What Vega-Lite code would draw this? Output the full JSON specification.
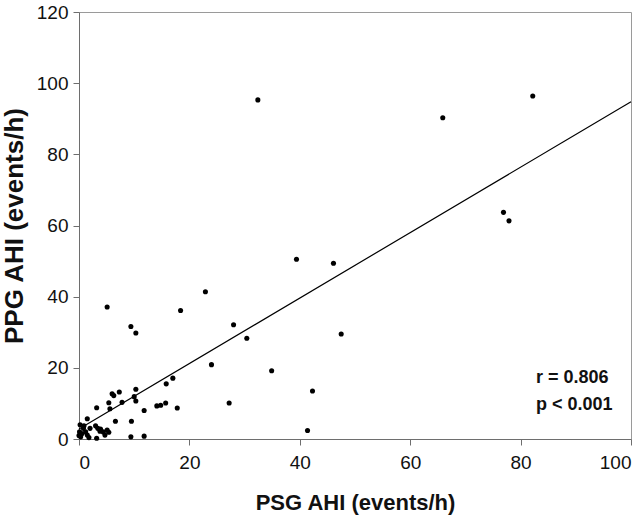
{
  "$schema": "https://vega.github.io/schema/vega-lite/v6.json",
  "width": 552,
  "height": 427,
  "autosize": "none",
  "padding": {"left": 79, "top": 12, "right": 12, "bottom": 78},
  "background": "white",
  "config": {
    "view": {"stroke": "#9a9a9a", "strokeWidth": 1},
    "font": "Liberation Sans",
    "axis": {
      "grid": false,
      "domainColor": "#6e6e6e",
      "tickColor": "#6e6e6e",
      "tickSize": 6,
      "labelFont": "Liberation Sans",
      "labelFontSize": 19,
      "labelColor": "#111",
      "titleFont": "Liberation Sans",
      "titleFontWeight": "bold",
      "titleColor": "#111"
    }
  },
  "layer": [
    {
      "data": {"values": [
        {"psg": 0.0, "ppg": 1.0}, {"psg": 0.1, "ppg": 2.0}, {"psg": 0.3, "ppg": 0.6},
        {"psg": 0.8, "ppg": 3.0}, {"psg": 0.9, "ppg": 3.7}, {"psg": 0.2, "ppg": 4.0},
        {"psg": 1.2, "ppg": 2.0}, {"psg": 1.5, "ppg": 1.1}, {"psg": 1.8, "ppg": 0.4},
        {"psg": 1.5, "ppg": 5.7}, {"psg": 3.0, "ppg": 3.7}, {"psg": 3.4, "ppg": 3.0},
        {"psg": 3.8, "ppg": 2.2}, {"psg": 4.4, "ppg": 2.0}, {"psg": 5.1, "ppg": 2.5},
        {"psg": 5.4, "ppg": 1.9}, {"psg": 3.2, "ppg": 0.2}, {"psg": 3.2, "ppg": 8.8},
        {"psg": 5.4, "ppg": 10.2}, {"psg": 5.6, "ppg": 8.5}, {"psg": 7.8, "ppg": 10.3},
        {"psg": 6.3, "ppg": 12.2}, {"psg": 6.0, "ppg": 12.7}, {"psg": 7.3, "ppg": 13.2},
        {"psg": 6.6, "ppg": 5.0}, {"psg": 9.5, "ppg": 5.0}, {"psg": 9.4, "ppg": 0.6},
        {"psg": 11.8, "ppg": 0.8}, {"psg": 10.0, "ppg": 11.9}, {"psg": 10.3, "ppg": 10.7},
        {"psg": 10.3, "ppg": 14.0}, {"psg": 11.8, "ppg": 8.0}, {"psg": 14.1, "ppg": 9.3},
        {"psg": 14.8, "ppg": 9.5}, {"psg": 15.7, "ppg": 10.1}, {"psg": 15.8, "ppg": 15.5},
        {"psg": 17.0, "ppg": 17.1}, {"psg": 17.8, "ppg": 8.7}, {"psg": 24.0, "ppg": 20.9},
        {"psg": 5.1, "ppg": 37.1}, {"psg": 9.4, "ppg": 31.6}, {"psg": 10.3, "ppg": 29.8},
        {"psg": 18.4, "ppg": 36.1}, {"psg": 22.9, "ppg": 41.4}, {"psg": 28.0, "ppg": 32.1},
        {"psg": 30.4, "ppg": 28.3}, {"psg": 34.9, "ppg": 19.2}, {"psg": 27.2, "ppg": 10.1},
        {"psg": 42.3, "ppg": 13.5}, {"psg": 41.4, "ppg": 2.4}, {"psg": 47.5, "ppg": 29.5},
        {"psg": 39.4, "ppg": 50.5}, {"psg": 46.1, "ppg": 49.4}, {"psg": 32.4, "ppg": 95.3},
        {"psg": 65.9, "ppg": 90.3}, {"psg": 82.2, "ppg": 96.4}, {"psg": 76.9, "ppg": 63.7},
        {"psg": 77.9, "ppg": 61.3}, {"psg": 4.7, "ppg": 1.1}, {"psg": 3.9, "ppg": 2.8},
        {"psg": 2.0, "ppg": 3.0}, {"psg": 0.5, "ppg": 1.5}
      ]},
      "mark": {"type": "circle", "size": 26, "color": "black", "opacity": 1},
      "encoding": {
        "x": {"field": "psg", "type": "quantitative", "scale": {"domain": [0, 100], "nice": false},
              "axis": {"values": [0, 20, 40, 60, 80, 100], "title": "PSG AHI (events/h)", "titleFontSize": 22, "titlePadding": 20, "labelPadding": 8}},
        "y": {"field": "ppg", "type": "quantitative", "scale": {"domain": [0, 120], "nice": false},
              "axis": {"values": [0, 20, 40, 60, 80, 100, 120], "title": "PPG AHI (events/h)", "titleFontSize": 26, "titlePadding": 9, "labelPadding": 5}}
      }
    },
    {
      "data": {"values": [{"psg": 0, "ppg": 2.8}, {"psg": 100, "ppg": 94.8}]},
      "mark": {"type": "line", "color": "black", "strokeWidth": 1.2},
      "encoding": {
        "x": {"field": "psg", "type": "quantitative"},
        "y": {"field": "ppg", "type": "quantitative"}
      }
    },
    {
      "data": {"values": [{"psg": 82.8, "ppg": 15.6, "label": "r = 0.806"}, {"psg": 82.8, "ppg": 8.2, "label": "p < 0.001"}]},
      "mark": {"type": "text", "align": "left", "baseline": "alphabetic", "fontSize": 18, "fontWeight": "bold", "font": "Liberation Sans", "color": "#111"},
      "encoding": {
        "x": {"field": "psg", "type": "quantitative"},
        "y": {"field": "ppg", "type": "quantitative"},
        "text": {"field": "label"}
      }
    }
  ]
}
